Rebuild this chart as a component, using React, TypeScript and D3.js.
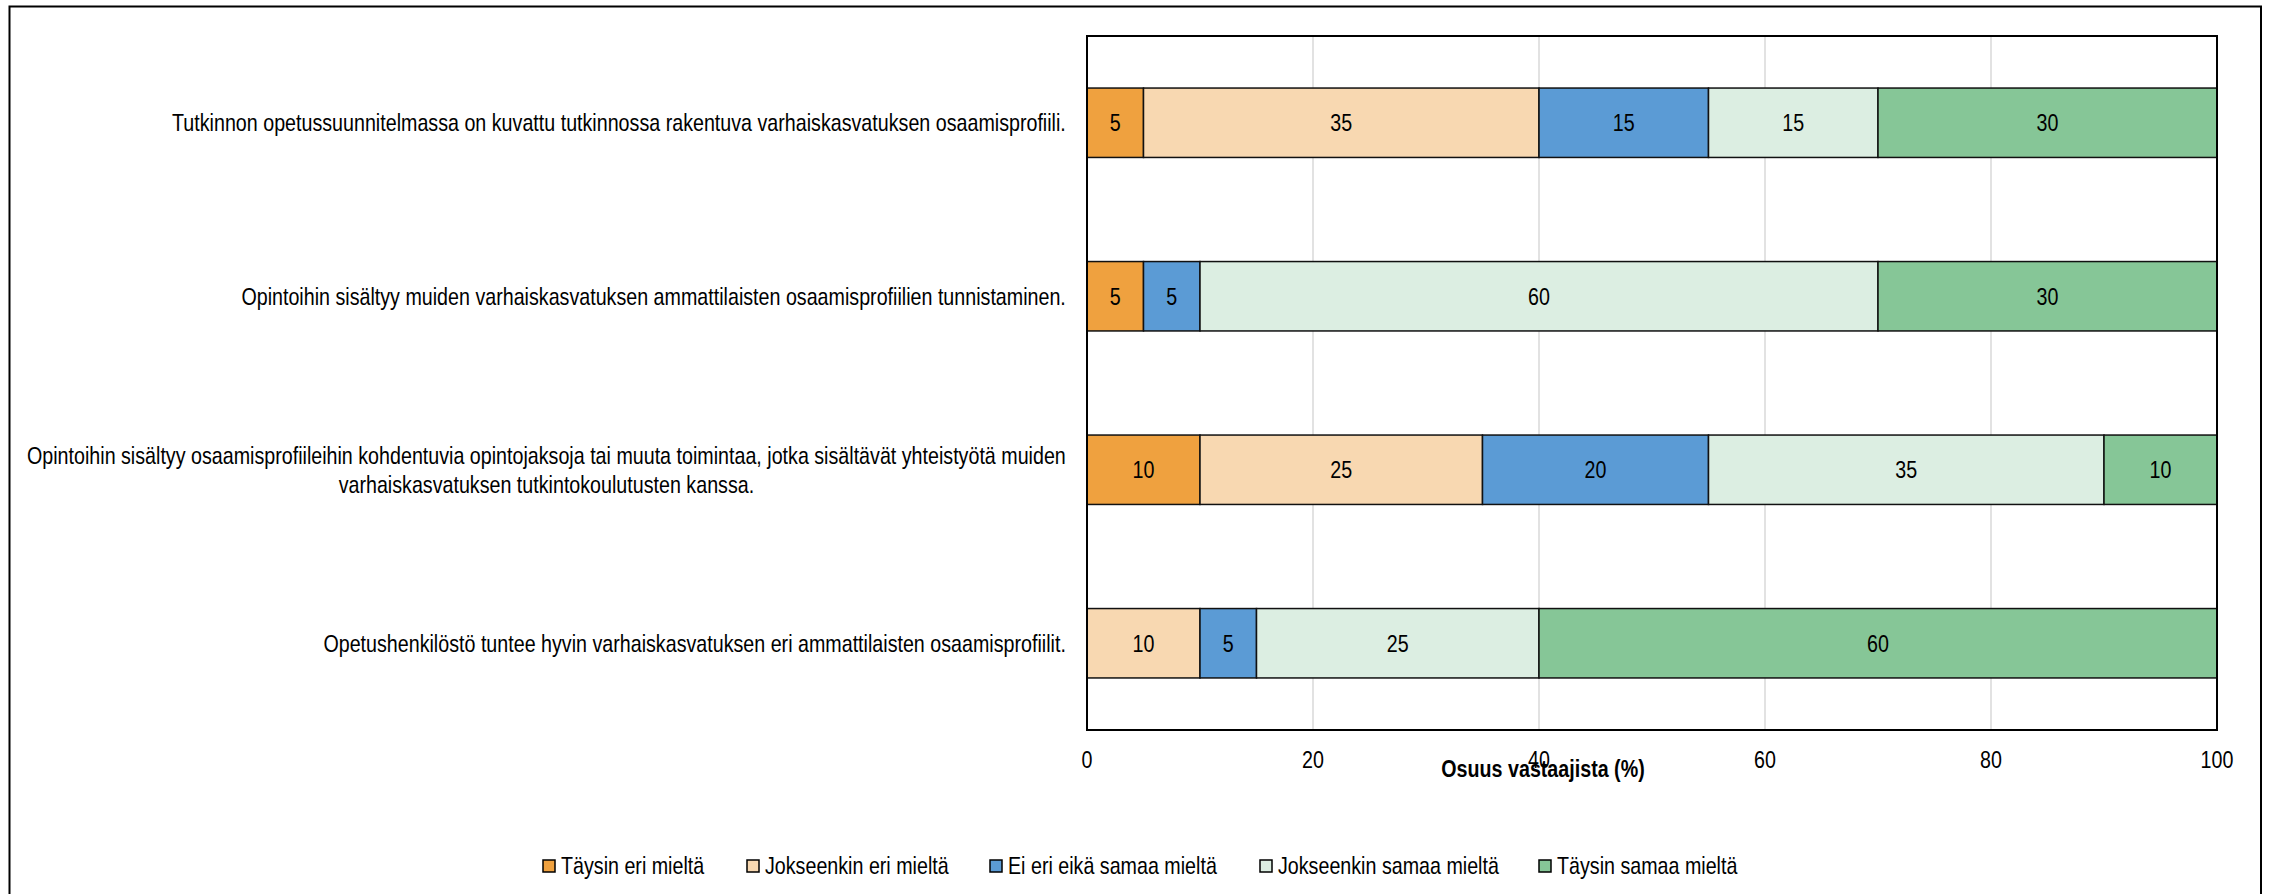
import React, { useEffect, useRef } from "react";
import * as d3 from "d3";

const categories = [
  "Tutkinnon opetussuunnitelmassa on kuvattu tutkinnossa rakentuva varhaiskasvatuksen osaamisprofiili.",
  "Opintoihin sisältyy muiden varhaiskasvatuksen ammattilaisten osaamisprofiilien tunnistaminen.",
  "Opintoihin sisältyy osaamisprofiileihin kohdentuvia opintojaksoja tai muuta toimintaa, jotka sisältävät yhteistyötä muiden|varhaiskasvatuksen tutkintokoulutusten kanssa.",
  "Opetushenkilöstö tuntee hyvin varhaiskasvatuksen eri ammattilaisten osaamisprofiilit.",
];

const seriesNames = [
  "Täysin eri mieltä",
  "Jokseenkin eri mieltä",
  "Ei eri eikä samaa mieltä",
  "Jokseenkin samaa mieltä",
  "Täysin samaa mieltä",
];

const taysinEri = [5, 5, 10, 0];
const jokseenkinEri = [35, 0, 25, 10];
const eiEriEikaSamaa = [15, 5, 20, 5];
const jokseenkinSamaa = [15, 60, 35, 25];
const taysinSamaa = [30, 30, 10, 60];

const xTicks = [0, 20, 40, 60, 80, 100];
const axisTitle = "Osuus vastaajista (%)";

const colors = ["#EFA13F", "#F8D8B1", "#5B9BD5", "#DCEEE2", "#86C697"];

const W = 2270;
const H = 894;
const FONT = "'Liberation Sans', Arial, sans-serif";
const SX = 0.82; // narrow look

export default function App() {
  const ref = useRef<SVGSVGElement>(null);

  useEffect(() => {
    const svg = d3.select(ref.current);
    svg.selectAll("*").remove();

    const margin = { left: 1087, right: W - 2217, top: 36, bottom: H - 730 };

    const rows = categories.map((c, i) => ({
      cat: c,
      [seriesNames[0]]: taysinEri[i],
      [seriesNames[1]]: jokseenkinEri[i],
      [seriesNames[2]]: eiEriEikaSamaa[i],
      [seriesNames[3]]: jokseenkinSamaa[i],
      [seriesNames[4]]: taysinSamaa[i],
    }));

    const stacked = d3.stack<any>().keys(seriesNames)(rows);

    const x = d3
      .scaleLinear()
      .domain([0, 100])
      .range([margin.left, W - margin.right]);

    const y = d3
      .scaleBand()
      .domain(categories)
      .range([margin.top, H - margin.bottom])
      .padding(0);

    const barH = y.bandwidth() * 0.4;

    svg.append("rect").attr("width", W).attr("height", H).attr("fill", "white");

    // outer chart border
    svg
      .append("rect")
      .attr("x", 9.5)
      .attr("y", 6.5)
      .attr("width", 2251.5)
      .attr("height", 1000)
      .attr("fill", "none")
      .attr("stroke", "#000")
      .attr("stroke-width", 2);

    // gridlines
    svg
      .append("g")
      .selectAll("line")
      .data(xTicks.slice(1, -1))
      .join("line")
      .attr("x1", (d) => x(d))
      .attr("x2", (d) => x(d))
      .attr("y1", margin.top)
      .attr("y2", H - margin.bottom)
      .attr("stroke", "#D9D9D9")
      .attr("stroke-width", 1.5);

    // bars
    const g = svg.append("g");
    stacked.forEach((layer, si) => {
      layer.forEach((seg, ci) => {
        const v = seg[1] - seg[0];
        if (v <= 0) return;
        const cy = y(categories[ci])! + y.bandwidth() / 2;
        g.append("rect")
          .attr("x", x(seg[0]))
          .attr("y", cy - barH / 2)
          .attr("width", x(seg[1]) - x(seg[0]))
          .attr("height", barH)
          .attr("fill", colors[si])
          .attr("stroke", "#111")
          .attr("stroke-width", 1.5);
        g.append("text")
          .attr(
            "transform",
            `translate(${(x(seg[0]) + x(seg[1])) / 2},${cy + 8.5}) scale(${SX},1)`
          )
          .attr("text-anchor", "middle")
          .attr("font-family", FONT)
          .attr("font-size", 24)
          .attr("fill", "#000")
          .text(v);
      });
    });

    // plot border
    svg
      .append("rect")
      .attr("x", margin.left)
      .attr("y", margin.top)
      .attr("width", x(100) - x(0))
      .attr("height", H - margin.bottom - margin.top)
      .attr("fill", "none")
      .attr("stroke", "#000")
      .attr("stroke-width", 2);

    // x tick labels
    svg
      .append("g")
      .selectAll("text")
      .data(xTicks)
      .join("text")
      .attr("transform", (d) => `translate(${x(d)},${768}) scale(${SX},1)`)
      .attr("text-anchor", "middle")
      .attr("font-family", FONT)
      .attr("font-size", 24)
      .attr("fill", "#000")
      .text((d) => d);

    // axis title
    svg
      .append("text")
      .attr("transform", `translate(1543,777) scale(${SX},1)`)
      .attr("text-anchor", "middle")
      .attr("font-family", FONT)
      .attr("font-size", 24)
      .attr("font-weight", "bold")
      .attr("fill", "#000")
      .text(axisTitle);

    // category labels (right-aligned block, lines centered)
    const labelRight = 1066;
    const lineH = 29;
    categories.forEach((c) => {
      const lines = c.split("|");
      const cy = y(c)! + y.bandwidth() / 2;
      const lg = svg.append("g");
      const texts = lines.map((ln) =>
        lg
          .append("text")
          .attr("font-family", FONT)
          .attr("font-size", 24)
          .attr("text-anchor", "middle")
          .attr("fill", "#000")
          .text(ln)
      );
      const widths = texts.map(
        (t) => (t.node() as SVGTextElement).getComputedTextLength() * SX
      );
      const maxW = d3.max(widths) || 0;
      const cx = labelRight - maxW / 2;
      texts.forEach((t, li) => {
        const by = cy + 8.5 + (li - (lines.length - 1) / 2) * lineH;
        t.attr("transform", `translate(${cx},${by}) scale(${SX},1)`);
      });
    });

    // legend
    const legendX = [543, 747, 990, 1260, 1539];
    const lgd = svg.append("g");
    seriesNames.forEach((s, i) => {
      lgd
        .append("rect")
        .attr("x", legendX[i])
        .attr("y", 860)
        .attr("width", 12)
        .attr("height", 12)
        .attr("fill", colors[i])
        .attr("stroke", "#000")
        .attr("stroke-width", 1.5);
      lgd
        .append("text")
        .attr("transform", `translate(${legendX[i] + 18},${874}) scale(${SX},1)`)
        .attr("font-family", FONT)
        .attr("font-size", 24)
        .attr("fill", "#000")
        .text(s);
    });
  }, []);

  return (
    <div style={{ position: "absolute", left: 0, top: 0 }}>
      <svg ref={ref} width={W} height={H} style={{ display: "block" }} />
    </div>
  );
}
